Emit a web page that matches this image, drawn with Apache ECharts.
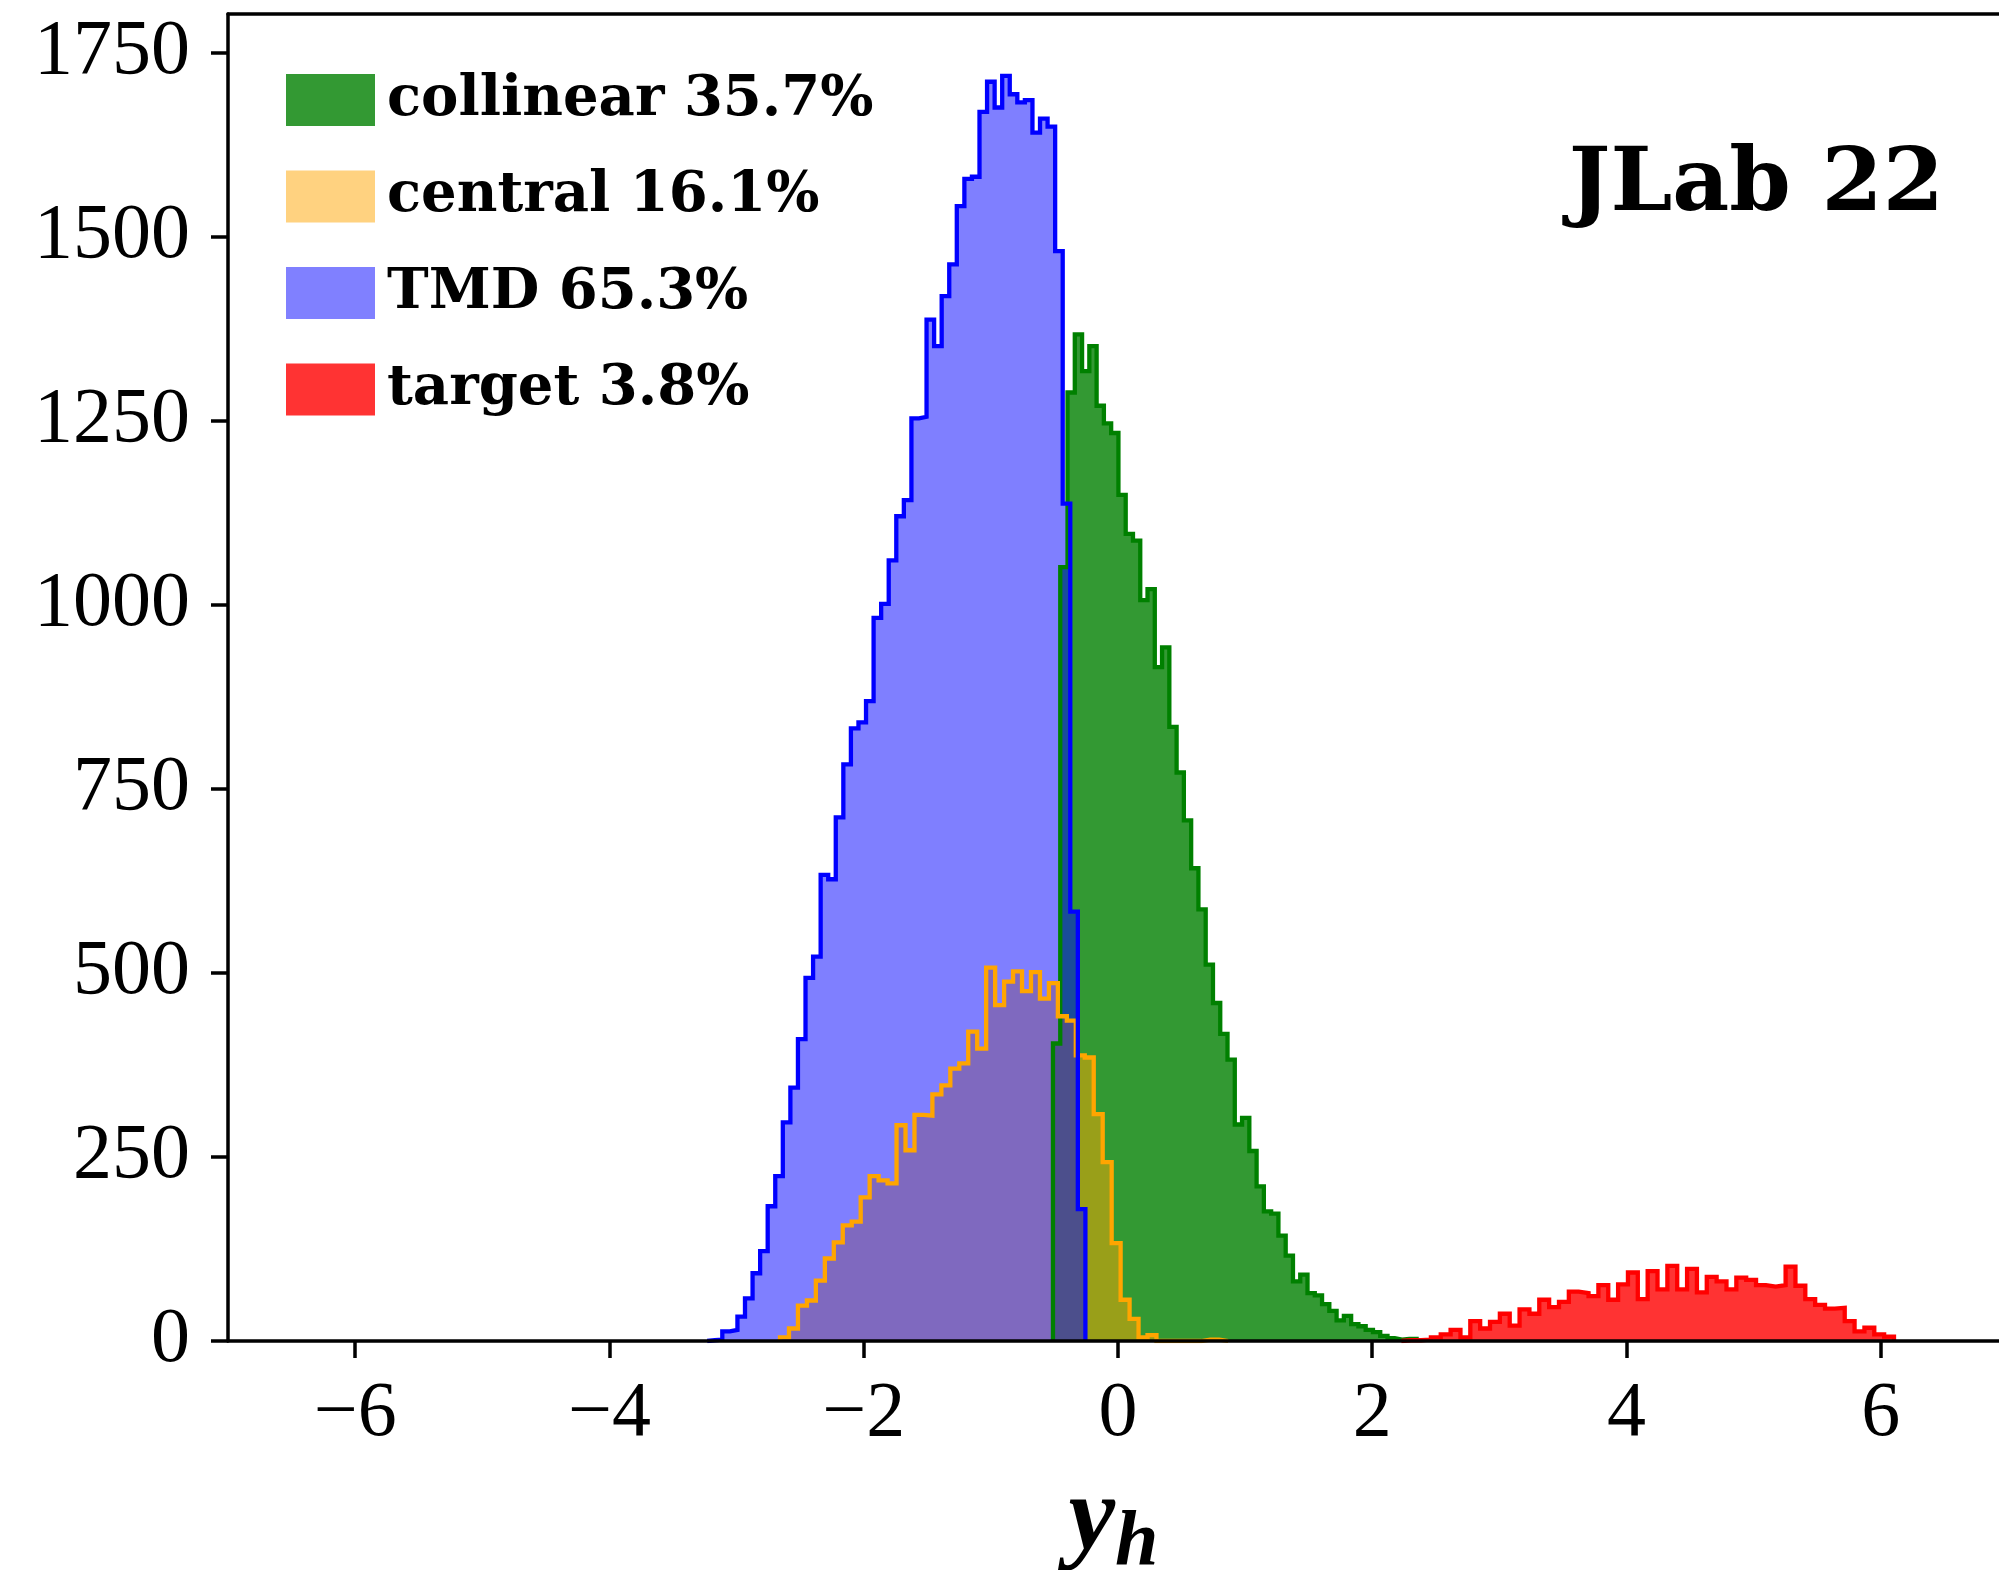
<!DOCTYPE html>
<html>
<head>
<meta charset="utf-8">
<script src="https://cdn.jsdelivr.net/npm/echarts@6/dist/echarts.min.js"></script>
<style>
  html, body { margin: 0; padding: 0; background: #fff; }
  #chart { width: 1999px; height: 1570px; }
</style>
</head>
<body>
<div id="chart"></div>
<script>
// histogram bins: first edge, bin width, count in each bin
const collinearStart = -0.511, collinearWidth = 0.0572;
const collinearCounts = [404, 1051, 1288, 1367, 1317, 1351, 1270, 1246, 1233, 1149,
  1096, 1087, 1006, 1021, 915, 942, 834, 772, 707, 642,
  586, 511, 459, 417, 382, 294, 303, 258, 210, 176,
  173, 143, 116, 81, 90, 65, 62, 50, 41, 28,
  34, 23, 20, 15, 12, 7, 4, 2, 3, 3];

const centralStart = -2.658, centralWidth = 0.0705;
const centralCounts = [5, 17, 48, 55, 82, 112, 134, 157, 162, 195,
  224, 218, 214, 293, 259, 307, 306, 335, 347, 370,
  377, 420, 397, 507, 456, 488, 502, 475, 501, 465,
  486, 441, 435, 388, 385, 308, 243, 133, 56, 30,
  5, 8, 0, 0, 0, 0, 0, 2, 2, 0];

const tmdStart = -3.231, tmdWidth = 0.0595;
const tmdCounts = [1, 2, 13, 15, 33, 58, 92, 122, 183, 224,
  297, 344, 410, 493, 522, 633, 627, 711, 783, 832,
  840, 869, 982, 1001, 1060, 1120, 1142, 1253, 1255, 1387,
  1351, 1419, 1462, 1541, 1578, 1581, 1669, 1710, 1675, 1718,
  1693, 1682, 1685, 1641, 1660, 1649, 1480, 1137, 583, 179];

const targetStart = 2.229, targetWidth = 0.0775;
const targetCounts = [1, 1, 2, 5, 9, 15, 5, 27, 17, 26,
  37, 21, 43, 37, 56, 46, 53, 67, 65, 61,
  76, 56, 77, 93, 57, 95, 70, 102, 70, 98,
  66, 87, 81, 70, 86, 83, 76, 74, 76, 101,
  75, 57, 49, 44, 45, 27, 13, 18, 9, 6];

const legendNames = ['collinear 35.7%', 'central 16.1%', 'TMD 65.3%', 'target 3.8%'];
const xTicks = [-6, -4, -2, 0, 2, 4, 6];
const yTicks = [0, 250, 500, 750, 1000, 1250, 1500, 1750];

// turn bins into points for a step line (vertical at each bin edge)
function stepPoints(start, width, counts) {
  const pts = [[start, 0]];
  counts.forEach((c, i) => pts.push([start + (i + 1) * width, c]));
  pts.push([start + counts.length * width, 0]);
  return pts;
}

const hists = [
  { name: legendNames[0], pts: stepPoints(collinearStart, collinearWidth, collinearCounts), fill: 'rgba(0,128,0,0.8)', solid: '#339933', edge: '#008000' },
  { name: legendNames[1], pts: stepPoints(centralStart, centralWidth, centralCounts), fill: 'rgba(255,165,0,0.5)', solid: '#ffd280', edge: '#ffa500' },
  { name: legendNames[2], pts: stepPoints(tmdStart, tmdWidth, tmdCounts), fill: 'rgba(0,0,255,0.5)', solid: '#8080ff', edge: '#0000ff' },
  { name: legendNames[3], pts: stepPoints(targetStart, targetWidth, targetCounts), fill: 'rgba(255,0,0,0.8)', solid: '#ff3333', edge: '#ff0000' }
];

const serifFont = 'Liberation Serif';
const boldFont = 'DejaVu Serif';

// fills first, outlines on top of every fill
const fillSeries = hists.map(h => ({
  name: h.name,
  type: 'line',
  step: 'start',
  data: h.pts,
  symbol: 'none',
  color: h.solid,
  lineStyle: { width: 0 },
  areaStyle: { color: h.fill, opacity: 1 },
  silent: true,
  z: 2
}));
const edgeSeries = hists.map(h => ({
  name: h.name + ' edge',
  type: 'line',
  step: 'start',
  data: h.pts,
  symbol: 'none',
  lineStyle: { color: h.edge, width: 4.3, join: 'miter' },
  silent: true,
  z: 3
}));

const chart = echarts.init(document.getElementById('chart'), null, { renderer: 'canvas' });
chart.setOption({
  animation: false,
  backgroundColor: '#fff',
  grid: { left: 228, right: 0, top: 14, bottom: 229, outerBoundsMode: 'none', containLabel: false },
  title: {
    text: 'JLab 22',
    right: 55,
    top: 143,
    padding: 0,
    textStyle: { fontFamily: boldFont, fontWeight: 'bold', fontSize: 88, lineHeight: 88, color: '#000' }
  },
  legend: {
    orient: 'vertical',
    left: 286,
    top: 72,
    padding: 0,
    itemWidth: 89,
    itemHeight: 52,
    itemGap: 40.5,
    icon: 'rect',
    selectedMode: false,
    data: hists.map(h => ({ name: h.name, itemStyle: { color: h.solid, borderWidth: 0 } })),
    textStyle: { fontFamily: boldFont, fontWeight: 'bold', fontSize: 56, lineHeight: 36, color: '#000', padding: [16, 0, 0, 7] }
  },
  xAxis: [{
    type: 'value',
    min: -7,
    max: 6.93,
    position: 'bottom',
    z: 10,
    axisLine: { show: true, onZero: false, lineStyle: { color: '#000', width: 3.5 } },
    axisTick: { show: true, customValues: xTicks, length: 17, lineStyle: { color: '#000', width: 3.5 } },
    axisLabel: {
      customValues: xTicks,
      formatter: v => String(v).replace('-', '\u2212'),
      fontFamily: serifFont, fontSize: 78, color: '#000', margin: 35
    },
    splitLine: { show: false },
    name: '{y|y}{h|h}',
    nameLocation: 'middle',
    nameGap: 98,
    nameTextStyle: {
      rich: {
        y: { fontFamily: serifFont, fontStyle: 'italic', fontWeight: 'bold', fontSize: 105, lineHeight: 100, color: '#000' },
        h: { fontFamily: serifFont, fontStyle: 'italic', fontWeight: 'bold', fontSize: 78, lineHeight: 74, padding: [46, 0, 0, 0], color: '#000' }
      }
    }
  }, {
    type: 'value',
    min: -7,
    max: 6.93,
    position: 'top',
    z: 10,
    axisLine: { show: true, onZero: false, lineStyle: { color: '#000', width: 3.5 } },
    axisTick: { show: false },
    axisLabel: { show: false },
    splitLine: { show: false }
  }],
  yAxis: {
    type: 'value',
    min: 0,
    max: 1802,
    z: 10,
    axisLine: { show: true, onZero: false, lineStyle: { color: '#000', width: 3.5 } },
    axisTick: { show: true, customValues: yTicks, length: 17, lineStyle: { color: '#000', width: 3.5 } },
    axisLabel: {
      customValues: yTicks,
      formatter: v => String(v),
      fontFamily: serifFont, fontSize: 78, color: '#000', margin: 38
    },
    splitLine: { show: false }
  },
  series: fillSeries.concat(edgeSeries)
});
</script>
</body>
</html>
